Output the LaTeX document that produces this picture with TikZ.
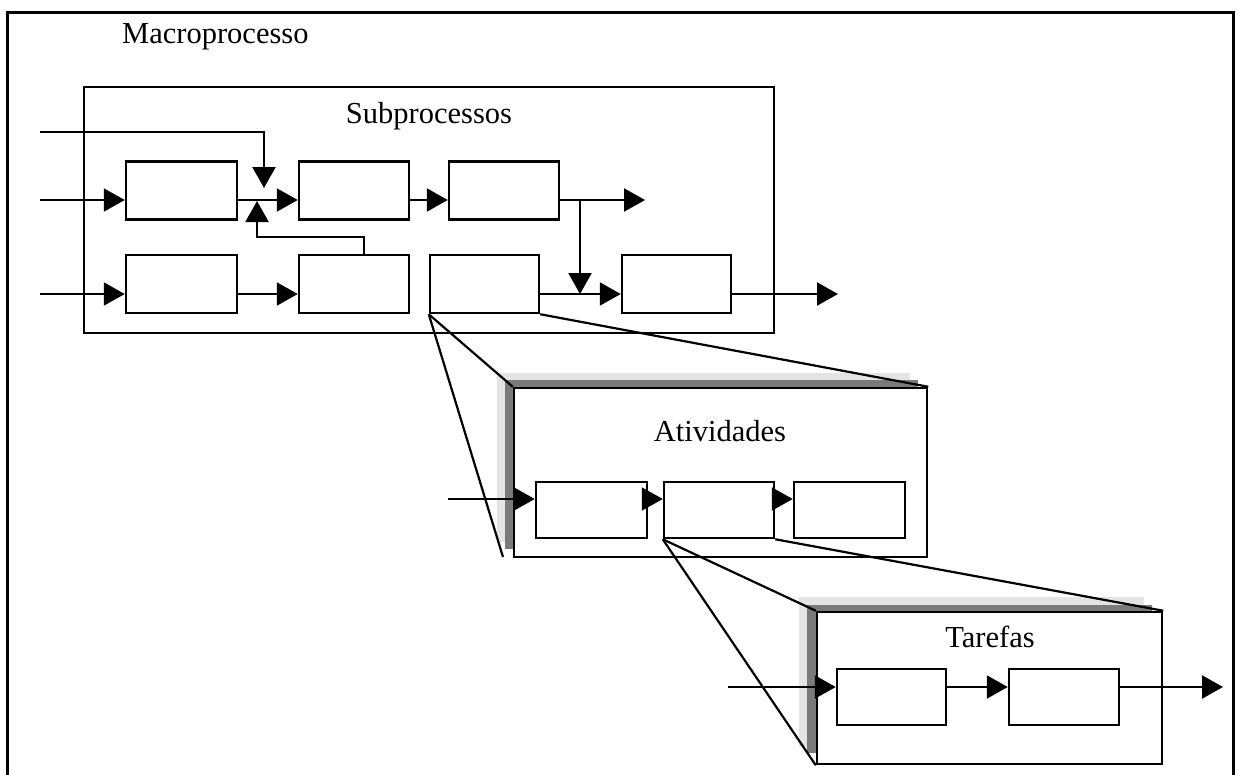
\documentclass[tikz,border=0pt]{standalone}
\usepackage{fontspec}
\setmainfont{Liberation Serif}
\usetikzlibrary{arrows.meta,calc}
\definecolor{shadowlight}{HTML}{E4E4E4}
\definecolor{shadowdark}{HTML}{7A7A7A}
\begin{document}
\begin{tikzpicture}[x=1pt,y=-1pt,
  frame/.style={draw, line width=2.5pt, inner sep=0pt},
  box/.style={frame, fill=white, minimum width=#1, minimum height=58pt},
  sbox/.style={frame, fill=white, minimum width=#1, minimum height=56pt},
  arr/.style={-{Triangle[length=21pt,width=23pt]}, line width=2.2pt},
  zoomline/.style={line width=2.2pt},
  lbl/.style={inner sep=0pt, anchor=base, font=\fontsize{30.5}{36}\selectfont}
]
\useasboundingbox (0,0) rectangle (1238,774);

% outer page frame (open at the bottom)
\draw[line width=3pt] (7,780) -- (7,12) -- (1233,12) -- (1233,780);
\node[lbl, anchor=base west] (tmacro) at (122,43) {Macroprocesso};

% subprocess level
\node[frame, minimum width=690pt, minimum height=246pt] (sub) at (429,210) {};
\node[lbl] (tsub) at (429,123) {Subprocessos};

\node[box=111pt] (A1) at (181.5,190.5) {};
\node[box=110pt] (A2) at (354,190.5) {};
\node[box=110pt] (A3) at (504,190.5) {};
\node[box=111pt] (B1) at (181.5,284) {};
\node[box=110pt] (B2) at (354,284) {};
\node[box=109pt] (B3) at (484.5,284) {};
\node[box=109pt] (B4) at (676.5,284) {};

\coordinate (in0) at (40,132);
\coordinate (in1) at (40,200);
\coordinate (in2) at (40,294);
\coordinate (tipD) at (264,188);
\coordinate (tipU) at (257,201);
\coordinate (out1) at (645,200);
\coordinate (br) at (580,200);
\coordinate (out2) at (838,294);

\draw[arr] (in0) -| (tipD);
\draw[arr] ($(B2.north)+(10,0)$) -- ++(0,-17) -| (tipU);
\draw[arr] (in1) -- (A1.west |- in1);
\draw[arr] (A1.east |- in1) -- (A2.west |- in1);
\draw[arr] (A2.east |- in1) -- (A3.west |- in1);
\draw[arr] (A3.east |- in1) -- (out1);
\draw[arr] (br) -- (br |- in2);
\draw[arr] (in2) -- (B1.west |- in2);
\draw[arr] (B1.east |- in2) -- (B2.west |- in2);
\draw[arr] (B3.east |- in2) -- (B4.west |- in2);
\draw[arr] (B4.east |- in2) -- (out2);

% activity level
\coordinate (atvc) at (720.5,472.5);
\fill[shadowlight] ($(atvc)+(-223.5,-99.5)$) rectangle ($(atvc)+(189.5,69.5)$);
\fill[shadowdark] ($(atvc)+(-215.5,-92.5)$) rectangle ($(atvc)+(197.5,76.5)$);
\node[frame, fill=white, minimum width=413pt, minimum height=169pt] (atv) at (atvc) {};
\node[lbl] (tatv) at (720,441) {Atividades};

\coordinate (atvfoot) at (503,557);
\draw[zoomline] (B3.south west) -- (atv.north west);
\draw[zoomline] (B3.south west) -- (atvfoot);
\draw[zoomline] (B3.south east) -- (atv.north east);

\node[sbox=111pt] (C1) at (591.5,510) {};
\node[sbox=110pt] (C2) at (719,510) {};
\node[sbox=111pt] (C3) at (849.5,510) {};

\coordinate (in3) at (448,499);
\draw[arr] (in3) -- (C1.west |- in3);
\draw[arr] (C1.east |- in3) -- (C2.west |- in3);
\draw[arr] (C2.east |- in3) -- (C3.west |- in3);

% task level
\coordinate (tarc) at (989.5,688);
\fill[shadowlight] ($(tarc)+(-190.5,-91)$) rectangle ($(tarc)+(154.5,59)$);
\fill[shadowdark] ($(tarc)+(-182.5,-83)$) rectangle ($(tarc)+(162.5,65)$);
\node[frame, fill=white, minimum width=345pt, minimum height=152pt] (tar) at (tarc) {};
\node[lbl] (ttar) at (990,647) {Tarefas};

\draw[zoomline] (C2.south west) -- (tar.north west);
\draw[zoomline] (C2.south west) -- (tar.south west);
\draw[zoomline] (C2.south east) -- (tar.north east);

\node[sbox=109pt] (D1) at (891.5,697) {};
\node[sbox=110pt] (D2) at (1064,697) {};

\coordinate (in4) at (728,687);
\coordinate (out4) at (1223,687);
\draw[arr] (in4) -- (D1.west |- in4);
\draw[arr] (D1.east |- in4) -- (D2.west |- in4);
\draw[arr] (D2.east |- in4) -- (out4);
\end{tikzpicture}
\end{document}
